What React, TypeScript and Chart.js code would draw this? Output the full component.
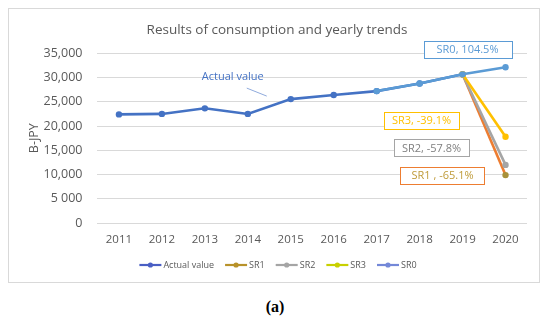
import React, { useEffect, useRef } from "react";
import { Chart, registerables } from "chart.js";

Chart.register(...registerables);

const years = ["2011", "2012", "2013", "2014", "2015", "2016", "2017", "2018", "2019", "2020"];
const actualValues = [22400, 22500, 23650, 22500, 25550, 26400, 27200, 28750, 30650, null];
const sr0Values = [null, null, null, null, null, null, 27200, 28750, 30650, 32100];
const sr1Values = [null, null, null, null, null, null, null, null, 30650, 9900];
const sr2Values = [null, null, null, null, null, null, null, null, 30650, 12000];
const sr3Values = [null, null, null, null, null, null, null, null, 30650, 17800];
const yTickLabels = ["0", "5 000", "10,000", "15,000", "20,000", "25,000", "30,000", "35,000"];
const seriesNames = ["Actual value", "SR1", "SR2", "SR3", "SR0"];
const scenarioLabels = ["Actual value", "SR1 , -65.1%", "SR2, -57.8%", "SR3, -39.1%", "SR0, 104.5%"];
const chartTitle = "Results of consumption and yearly trends";
const yAxisTitle = "B-JPY";

const FONT = "'Open Sans', sans-serif";
const TEXT = "#595959";

// styling for each series (line, marker, legend)
const styles = [
  { line: "#4472C4", point: "#4472C4", legend: "#4A5FC4" },
  { line: "#ED7D31", point: "#A8913A", legend: "#B8922A" },
  { line: "#A5A5A5", point: "#A5A5A5", legend: "#A5A5A5" },
  { line: "#FFC000", point: "#FFC000", legend: "#C8D000" },
  { line: "#5B9BD5", point: "#5B9BD5", legend: "#7488D8" },
];

// annotation placement: dataset index, point index, offset, colours
const annotations = [
  { ds: 0, idx: 4, dx: -58, dy: -23, text: "#4472C4", border: null, padX: 0, leader: [-44, -11, -24, -3] },
  { ds: 1, idx: 9, dx: -63, dy: 0, text: "#BF9B3A", border: "#ED7D31", padX: 11 },
  { ds: 2, idx: 9, dx: -74, dy: -17, text: "#7F7F7F", border: "#A5A5A5", padX: 8 },
  { ds: 3, idx: 9, dx: -84, dy: -16, text: "#FFC000", border: "#FFC000", padX: 8 },
  { ds: 4, idx: 9, dx: -38, dy: -18, text: "#5B9BD5", border: "#5B9BD5", padX: 13 },
];

const labelPlugin = {
  id: "scenarioLabels",
  afterDatasetsDraw(chart: any) {
    const ctx = chart.ctx;
    ctx.save();
    ctx.font = `11px ${FONT}`;
    ctx.textAlign = "center";
    ctx.textBaseline = "middle";
    annotations.forEach((a, i) => {
      const el = chart.getDatasetMeta(a.ds).data[a.idx];
      if (!el) return;
      const cx = el.x + a.dx;
      const cy = el.y + a.dy;
      const txt = scenarioLabels[i];
      const w = ctx.measureText(txt).width + a.padX * 2;
      const h = 17;
      if (a.border) {
        ctx.fillStyle = "#ffffff";
        ctx.fillRect(Math.round(cx - w / 2) + 0.5, Math.round(cy - h / 2) + 0.5, Math.round(w), h);
        ctx.strokeStyle = a.border;
        ctx.lineWidth = 1;
        ctx.strokeRect(Math.round(cx - w / 2) + 0.5, Math.round(cy - h / 2) + 0.5, Math.round(w), h);
      }
      if (a.leader) {
        ctx.strokeStyle = "#8FAADC";
        ctx.lineWidth = 1;
        ctx.beginPath();
        ctx.moveTo(el.x + a.leader[0], el.y + a.leader[1]);
        ctx.lineTo(el.x + a.leader[2], el.y + a.leader[3]);
        ctx.stroke();
      }
      ctx.fillStyle = a.text;
      ctx.fillText(txt, cx, cy + 0.5);
    });
    ctx.restore();
  },
};

const legendPlugin = {
  id: "lineLegend",
  afterDraw(chart: any) {
    const ctx = chart.ctx;
    ctx.save();
    ctx.font = `9px ${FONT}`;
    ctx.textBaseline = "middle";
    ctx.textAlign = "left";
    const lineLen = 22;
    const gapText = 2;
    const gapItem = 11;
    const widths = seriesNames.map((n) => ctx.measureText(n).width);
    const total = widths.reduce((s, w) => s + lineLen + gapText + w, 0) + gapItem * (seriesNames.length - 1);
    let x = chart.width / 2 + 4 - total / 2;
    const y = chart.height - 17;
    seriesNames.forEach((n, i) => {
      const c = styles[i].legend;
      ctx.strokeStyle = c;
      ctx.lineWidth = 2.2;
      ctx.beginPath();
      ctx.moveTo(x, y);
      ctx.lineTo(x + lineLen, y);
      ctx.stroke();
      ctx.fillStyle = c;
      ctx.beginPath();
      ctx.arc(x + lineLen / 2, y, 2.6, 0, Math.PI * 2);
      ctx.fill();
      ctx.fillStyle = TEXT;
      ctx.fillText(n, x + lineLen + gapText, y);
      x += lineLen + gapText + widths[i] + gapItem;
    });
    ctx.restore();
  },
};

export default function App() {
  const ref = useRef<HTMLCanvasElement>(null);
  useEffect(() => {
    if (!ref.current) return;
    const seriesData = [actualValues, sr1Values, sr2Values, sr3Values, sr0Values];
    const orders = [4, 3, 2, 1, 0];
    const chart = new Chart(ref.current, {
      type: "line",
      data: {
        labels: years,
        datasets: seriesData.map((d, i) => ({
          label: seriesNames[i],
          data: d,
          borderColor: styles[i].line,
          backgroundColor: styles[i].point,
          pointBackgroundColor: styles[i].point,
          pointBorderColor: styles[i].point,
          pointRadius: 3.2,
          pointBorderWidth: 0,
          borderWidth: 2.6,
          tension: 0,
          spanGaps: false,
          order: orders[i],
        })),
      },
      options: {
        animation: false,
        responsive: false,
        devicePixelRatio: 1,
        layout: { padding: { left: 18, right: 12, top: 4, bottom: 25 } },
        plugins: {
          legend: { display: false },
          tooltip: { enabled: false },
          title: {
            display: true,
            text: chartTitle,
            color: TEXT,
            font: { family: FONT, size: 13.5, weight: "normal" },
            padding: { top: 9, bottom: 15 },
          },
        },
        scales: {
          x: {
            offset: true,
            grid: { display: false, drawTicks: false },
            border: { display: false },
            ticks: { color: TEXT, font: { family: FONT, size: 11.5 }, padding: 10, maxRotation: 0 },
          },
          y: {
            min: 0,
            max: 35000,
            grid: { color: "#D9D9D9", drawTicks: false },
            border: { display: false },
            ticks: {
              stepSize: 5000,
              color: TEXT,
              font: { family: FONT, size: 12.5 },
              padding: 15,
              callback: (_v: any, i: number) => yTickLabels[i],
            },
            title: {
              display: true,
              text: yAxisTitle,
              color: TEXT,
              font: { family: FONT, size: 12.5 },
              padding: { top: 0, bottom: -13.5 },
            },
          },
        },
      },
      plugins: [labelPlugin, legendPlugin],
    } as any);
    return () => chart.destroy();
  }, []);

  return (
    <div>
      <div style={{ width: 530, height: 273, border: "1px solid #D9D9D9" }}>
        <canvas ref={ref} width={530} height={273} style={{ display: "block", width: 530, height: 273 }} />
      </div>
      <div style={{ textAlign: "center", fontWeight: "bold", fontSize: 16, marginTop: 15, lineHeight: "18px" }}>
        (a)
      </div>
    </div>
  );
}
